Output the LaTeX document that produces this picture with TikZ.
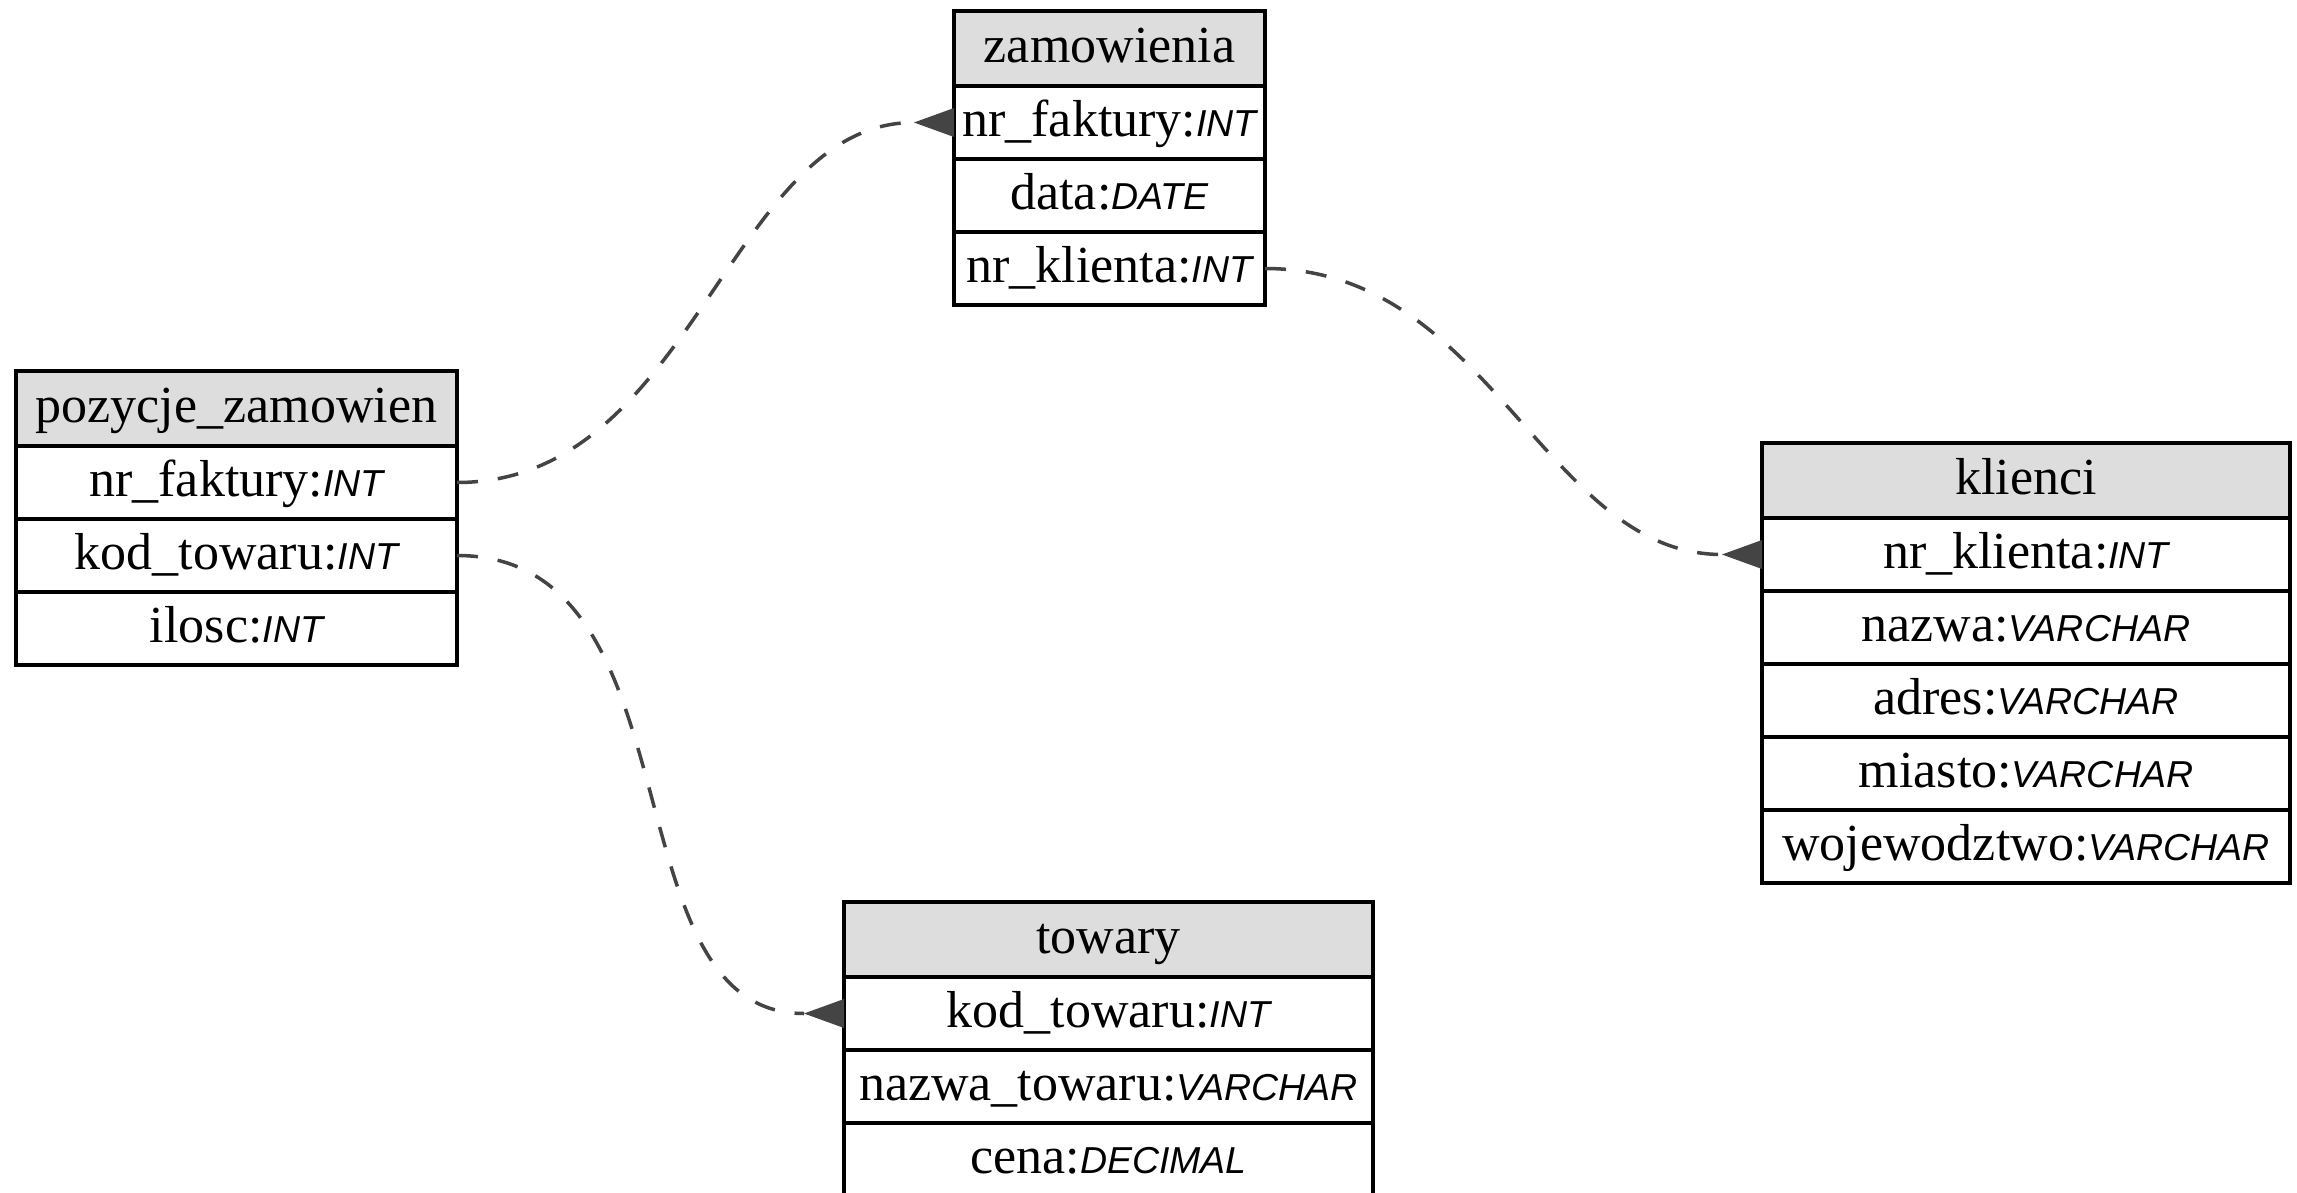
\documentclass[tikz,border=0pt]{standalone}
\usepackage{fontspec}
\setmainfont{Liberation Serif}
\newfontfamily\typefam{Liberation Sans}
\usetikzlibrary{calc}
\definecolor{hdrgray}{HTML}{DDDDDD}
\definecolor{edgec}{HTML}{444444}
\newcommand{\dtype}[1]{{\fontsize{37.5}{40}\selectfont\typefam\itshape #1}}
\begin{document}
\begin{tikzpicture}[x=1pt,y=-1pt,
  cell/.style={draw=black, line width=3.3pt, rectangle, inner sep=0pt, outer sep=0pt,
    minimum height=73pt, text height=37.4pt, text depth=10pt,
    font=\fontsize{52}{60}\selectfont, anchor=north west, fill=white},
  hcell/.style={cell, fill=hdrgray, minimum height=75pt},
  rel/.style={draw=edgec, line width=3.5pt, dash pattern=on 21pt off 20pt},
  tipc/.style={fill=edgec}]
\fill[white] (0,0) rectangle (2297,1193);
\useasboundingbox (0,0) rectangle (2297,1193);

% pozycje_zamowien
\node[hcell, minimum width=441pt] (pz-h) at (16,371) {pozycje\_zamowien};
\node[cell, minimum width=441pt] (pz-1) at (pz-h.south west) {nr\_faktury:\dtype{INT}};
\node[cell, minimum width=441pt] (pz-2) at (pz-1.south west) {kod\_towaru:\dtype{INT}};
\node[cell, minimum width=441pt] (pz-3) at (pz-2.south west) {ilosc:\dtype{INT}};

% zamowienia
\node[hcell, minimum width=311pt] (zm-h) at (954,11) {zamowienia};
\node[cell, minimum width=311pt] (zm-1) at (zm-h.south west) {nr\_faktury:\dtype{INT}};
\node[cell, minimum width=311pt] (zm-2) at (zm-1.south west) {data:\dtype{DATE}};
\node[cell, minimum width=311pt] (zm-3) at (zm-2.south west) {nr\_klienta:\dtype{INT}};

% klienci
\node[hcell, minimum width=528pt] (kl-h) at (1762,443) {klienci};
\node[cell, minimum width=528pt] (kl-1) at (kl-h.south west) {nr\_klienta:\dtype{INT}};
\node[cell, minimum width=528pt] (kl-2) at (kl-1.south west) {nazwa:\dtype{VARCHAR}};
\node[cell, minimum width=528pt] (kl-3) at (kl-2.south west) {adres:\dtype{VARCHAR}};
\node[cell, minimum width=528pt] (kl-4) at (kl-3.south west) {miasto:\dtype{VARCHAR}};
\node[cell, minimum width=528pt] (kl-5) at (kl-4.south west) {wojewodztwo:\dtype{VARCHAR}};

% towary
\node[hcell, minimum width=529pt] (tw-h) at (844,902) {towary};
\node[cell, minimum width=529pt] (tw-1) at (tw-h.south west) {kod\_towaru:\dtype{INT}};
\node[cell, minimum width=529pt] (tw-2) at (tw-1.south west) {nazwa\_towaru:\dtype{VARCHAR}};
\node[cell, minimum width=529pt] (tw-3) at (tw-2.south west) {cena:\dtype{DECIMAL}};

% connectors
\coordinate (t1) at ($(zm-1.west)+(-40,0)$);
\coordinate (t2) at ($(kl-1.west)+(-40,0)$);
\coordinate (t3) at ($(tw-1.west)+(-40,0)$);

\draw[rel] (pz-1.east) .. controls +(237,0) and +(-185,0) .. (t1);
\draw[rel] (zm-3.east) .. controls +(226,0) and +(-177,0) .. (t2);
\draw[rel] (pz-2.east) .. controls +(246,0) and +(-199,0) .. (t3);

\fill[tipc] (t1) -- ($(zm-1.west)+(0,-14.5)$) -- ($(zm-1.west)+(0,14.5)$) -- cycle;
\fill[tipc] (t2) -- ($(kl-1.west)+(0,-14.5)$) -- ($(kl-1.west)+(0,14.5)$) -- cycle;
\fill[tipc] (t3) -- ($(tw-1.west)+(0,-14.5)$) -- ($(tw-1.west)+(0,14.5)$) -- cycle;
\end{tikzpicture}
\end{document}
